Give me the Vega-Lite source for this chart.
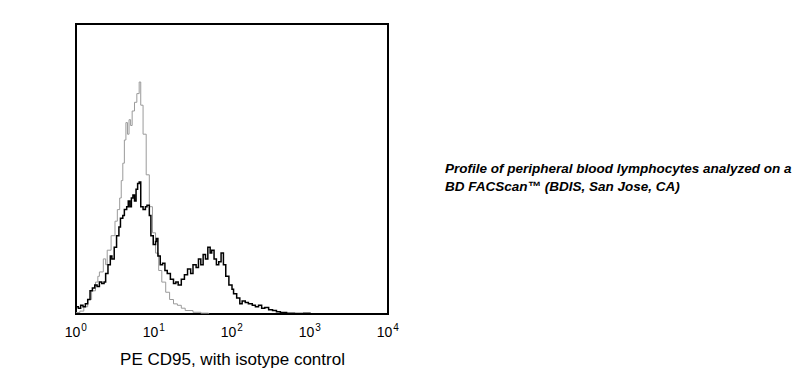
{
  "$schema": "https://vega.github.io/schema/vega-lite/v6.json",
  "width": 312,
  "height": 290,
  "autosize": {"type": "none"},
  "padding": {"left": 76, "top": 24, "right": 416, "bottom": 60},
  "background": "white",
  "title": {
    "text": ["Profile of peripheral blood lymphocytes analyzed on a", "BD FACScan™ (BDIS, San Jose, CA)"],
    "orient": "top",
    "anchor": "start",
    "frame": "group",
    "dx": 369,
    "dy": 169,
    "offset": 0,
    "baseline": "top",
    "lineHeight": 18,
    "font": "Liberation Sans",
    "fontSize": 13.5,
    "fontStyle": "italic",
    "fontWeight": "bold",
    "color": "#000000"
  },
  "config": {
    "view": {"stroke": "#000000", "strokeWidth": 2},
    "axis": {"grid": false, "domain": false, "ticks": false}
  },
  "data": {"values": [
    {"series": "Isotype control", "fluorescence": 1.0, "count": 0.5},
    {"series": "Isotype control", "fluorescence": 1.122, "count": 1},
    {"series": "Isotype control", "fluorescence": 1.259, "count": 2.5},
    {"series": "Isotype control", "fluorescence": 1.413, "count": 5},
    {"series": "Isotype control", "fluorescence": 1.585, "count": 8},
    {"series": "Isotype control", "fluorescence": 1.778, "count": 11},
    {"series": "Isotype control", "fluorescence": 1.905, "count": 13},
    {"series": "Isotype control", "fluorescence": 1.995, "count": 14.5},
    {"series": "Isotype control", "fluorescence": 2.239, "count": 19},
    {"series": "Isotype control", "fluorescence": 2.399, "count": 17},
    {"series": "Isotype control", "fluorescence": 2.512, "count": 22},
    {"series": "Isotype control", "fluorescence": 2.818, "count": 27},
    {"series": "Isotype control", "fluorescence": 3.162, "count": 32},
    {"series": "Isotype control", "fluorescence": 3.388, "count": 36},
    {"series": "Isotype control", "fluorescence": 3.631, "count": 40},
    {"series": "Isotype control", "fluorescence": 3.802, "count": 46},
    {"series": "Isotype control", "fluorescence": 3.981, "count": 52},
    {"series": "Isotype control", "fluorescence": 4.169, "count": 60},
    {"series": "Isotype control", "fluorescence": 4.365, "count": 66},
    {"series": "Isotype control", "fluorescence": 4.571, "count": 62},
    {"series": "Isotype control", "fluorescence": 4.786, "count": 67},
    {"series": "Isotype control", "fluorescence": 5.012, "count": 65},
    {"series": "Isotype control", "fluorescence": 5.248, "count": 70},
    {"series": "Isotype control", "fluorescence": 5.623, "count": 73},
    {"series": "Isotype control", "fluorescence": 6.026, "count": 76},
    {"series": "Isotype control", "fluorescence": 6.457, "count": 80},
    {"series": "Isotype control", "fluorescence": 6.761, "count": 72},
    {"series": "Isotype control", "fluorescence": 7.244, "count": 62},
    {"series": "Isotype control", "fluorescence": 7.943, "count": 48},
    {"series": "Isotype control", "fluorescence": 8.71, "count": 37},
    {"series": "Isotype control", "fluorescence": 9.55, "count": 28},
    {"series": "Isotype control", "fluorescence": 10.47, "count": 21},
    {"series": "Isotype control", "fluorescence": 11.48, "count": 15},
    {"series": "Isotype control", "fluorescence": 12.59, "count": 11},
    {"series": "Isotype control", "fluorescence": 14.13, "count": 7.5},
    {"series": "Isotype control", "fluorescence": 15.85, "count": 5},
    {"series": "Isotype control", "fluorescence": 17.78, "count": 3.5},
    {"series": "Isotype control", "fluorescence": 19.95, "count": 3},
    {"series": "Isotype control", "fluorescence": 22.39, "count": 2},
    {"series": "Isotype control", "fluorescence": 25.12, "count": 1.2},
    {"series": "Isotype control", "fluorescence": 31.62, "count": 0.6},
    {"series": "Isotype control", "fluorescence": 39.81, "count": 0.3},
    {"series": "Isotype control", "fluorescence": 50.12, "count": 0.1},
    {"series": "PE CD95", "fluorescence": 1.0, "count": 2.5},
    {"series": "PE CD95", "fluorescence": 1.072, "count": 2},
    {"series": "PE CD95", "fluorescence": 1.148, "count": 3},
    {"series": "PE CD95", "fluorescence": 1.23, "count": 2.5},
    {"series": "PE CD95", "fluorescence": 1.318, "count": 3.5},
    {"series": "PE CD95", "fluorescence": 1.413, "count": 5},
    {"series": "PE CD95", "fluorescence": 1.514, "count": 8},
    {"series": "PE CD95", "fluorescence": 1.622, "count": 9},
    {"series": "PE CD95", "fluorescence": 1.738, "count": 10},
    {"series": "PE CD95", "fluorescence": 1.862, "count": 9.5},
    {"series": "PE CD95", "fluorescence": 1.995, "count": 11},
    {"series": "PE CD95", "fluorescence": 2.138, "count": 10.5},
    {"series": "PE CD95", "fluorescence": 2.291, "count": 11},
    {"series": "PE CD95", "fluorescence": 2.399, "count": 14},
    {"series": "PE CD95", "fluorescence": 2.57, "count": 17},
    {"series": "PE CD95", "fluorescence": 2.754, "count": 20},
    {"series": "PE CD95", "fluorescence": 2.884, "count": 19},
    {"series": "PE CD95", "fluorescence": 3.09, "count": 23},
    {"series": "PE CD95", "fluorescence": 3.311, "count": 27},
    {"series": "PE CD95", "fluorescence": 3.548, "count": 30},
    {"series": "PE CD95", "fluorescence": 3.715, "count": 33},
    {"series": "PE CD95", "fluorescence": 3.981, "count": 34},
    {"series": "PE CD95", "fluorescence": 4.169, "count": 36},
    {"series": "PE CD95", "fluorescence": 4.467, "count": 37},
    {"series": "PE CD95", "fluorescence": 4.677, "count": 39},
    {"series": "PE CD95", "fluorescence": 4.898, "count": 37},
    {"series": "PE CD95", "fluorescence": 5.129, "count": 40},
    {"series": "PE CD95", "fluorescence": 5.37, "count": 41},
    {"series": "PE CD95", "fluorescence": 5.623, "count": 39},
    {"series": "PE CD95", "fluorescence": 5.888, "count": 43},
    {"series": "PE CD95", "fluorescence": 6.166, "count": 45},
    {"series": "PE CD95", "fluorescence": 6.457, "count": 45.5},
    {"series": "PE CD95", "fluorescence": 6.761, "count": 37},
    {"series": "PE CD95", "fluorescence": 7.244, "count": 36},
    {"series": "PE CD95", "fluorescence": 7.762, "count": 37},
    {"series": "PE CD95", "fluorescence": 8.128, "count": 37.5},
    {"series": "PE CD95", "fluorescence": 8.71, "count": 34},
    {"series": "PE CD95", "fluorescence": 9.12, "count": 27},
    {"series": "PE CD95", "fluorescence": 9.772, "count": 24},
    {"series": "PE CD95", "fluorescence": 10.47, "count": 25},
    {"series": "PE CD95", "fluorescence": 10.72, "count": 26},
    {"series": "PE CD95", "fluorescence": 11.22, "count": 20},
    {"series": "PE CD95", "fluorescence": 12.02, "count": 17},
    {"series": "PE CD95", "fluorescence": 12.88, "count": 17.5},
    {"series": "PE CD95", "fluorescence": 13.8, "count": 15},
    {"series": "PE CD95", "fluorescence": 14.79, "count": 14},
    {"series": "PE CD95", "fluorescence": 16.22, "count": 12},
    {"series": "PE CD95", "fluorescence": 17.78, "count": 10.5},
    {"series": "PE CD95", "fluorescence": 19.05, "count": 11},
    {"series": "PE CD95", "fluorescence": 20.42, "count": 10},
    {"series": "PE CD95", "fluorescence": 22.39, "count": 12},
    {"series": "PE CD95", "fluorescence": 24.55, "count": 13.5},
    {"series": "PE CD95", "fluorescence": 26.92, "count": 15.5},
    {"series": "PE CD95", "fluorescence": 29.51, "count": 14},
    {"series": "PE CD95", "fluorescence": 31.62, "count": 17},
    {"series": "PE CD95", "fluorescence": 34.67, "count": 16},
    {"series": "PE CD95", "fluorescence": 37.15, "count": 19},
    {"series": "PE CD95", "fluorescence": 39.81, "count": 17},
    {"series": "PE CD95", "fluorescence": 42.66, "count": 20.5},
    {"series": "PE CD95", "fluorescence": 45.71, "count": 19},
    {"series": "PE CD95", "fluorescence": 48.98, "count": 23},
    {"series": "PE CD95", "fluorescence": 52.48, "count": 21},
    {"series": "PE CD95", "fluorescence": 54.95, "count": 22},
    {"series": "PE CD95", "fluorescence": 58.88, "count": 19},
    {"series": "PE CD95", "fluorescence": 63.1, "count": 17},
    {"series": "PE CD95", "fluorescence": 67.61, "count": 18},
    {"series": "PE CD95", "fluorescence": 72.44, "count": 21},
    {"series": "PE CD95", "fluorescence": 77.62, "count": 17},
    {"series": "PE CD95", "fluorescence": 83.18, "count": 13},
    {"series": "PE CD95", "fluorescence": 91.2, "count": 10},
    {"series": "PE CD95", "fluorescence": 100, "count": 8.5},
    {"series": "PE CD95", "fluorescence": 104.7, "count": 7},
    {"series": "PE CD95", "fluorescence": 114.8, "count": 5.5},
    {"series": "PE CD95", "fluorescence": 125.9, "count": 3.5},
    {"series": "PE CD95", "fluorescence": 134.9, "count": 4.5},
    {"series": "PE CD95", "fluorescence": 147.9, "count": 4},
    {"series": "PE CD95", "fluorescence": 162.2, "count": 3.5},
    {"series": "PE CD95", "fluorescence": 182.0, "count": 3},
    {"series": "PE CD95", "fluorescence": 199.5, "count": 2.5},
    {"series": "PE CD95", "fluorescence": 218.8, "count": 3},
    {"series": "PE CD95", "fluorescence": 239.9, "count": 2},
    {"series": "PE CD95", "fluorescence": 263.0, "count": 2.2},
    {"series": "PE CD95", "fluorescence": 295.1, "count": 1.5},
    {"series": "PE CD95", "fluorescence": 331.1, "count": 1.2},
    {"series": "PE CD95", "fluorescence": 371.5, "count": 0.8},
    {"series": "PE CD95", "fluorescence": 416.9, "count": 0.5},
    {"series": "PE CD95", "fluorescence": 501.2, "count": 0.3},
    {"series": "PE CD95", "fluorescence": 631.0, "count": 0.2},
    {"series": "PE CD95", "fluorescence": 831.8, "count": 0.3},
    {"series": "PE CD95", "fluorescence": 1000, "count": 0.1}
  ]},
  "layer": [
    {
      "transform": [{"filter": "datum.series === 'Isotype control'"}],
      "mark": {"type": "line", "interpolate": "step-after", "color": "#9a9a9a", "strokeWidth": 1},
      "encoding": {
        "x": {
          "field": "fluorescence",
          "type": "quantitative",
          "scale": {"type": "log", "domain": [1, 10000], "nice": false},
          "axis": {
            "orient": "bottom",
            "values": [1, 10, 100, 1000, 10000],
            "labelExpr": "'10'",
            "labelFont": "Liberation Sans",
            "labelFontSize": 14,
            "labelColor": "#000000",
            "labelPadding": 11,
            "labelOffset": -4,
            "labelFlush": false,
            "labelOverlap": false,
            "title": "PE CD95, with isotype control",
            "titleFont": "Liberation Sans",
            "titleFontSize": 17,
            "titleFontWeight": "normal",
            "titleColor": "#000000",
            "titlePadding": 12
          }
        },
        "y": {
          "field": "count",
          "type": "quantitative",
          "scale": {"domain": [0, 100], "nice": false},
          "axis": {
            "labels": false,
            "title": "Relative Cell Number",
            "titleFont": "Liberation Sans",
            "titleFontSize": 17,
            "titleFontWeight": "normal",
            "titleColor": "#000000",
            "titlePadding": 39
          }
        }
      }
    },
    {
      "transform": [{"filter": "datum.series === 'PE CD95'"}],
      "mark": {"type": "line", "interpolate": "step-after", "color": "#000000", "strokeWidth": 1.5},
      "encoding": {
        "x": {
          "field": "fluorescence",
          "type": "quantitative",
          "scale": {"type": "log", "domain": [1, 10000], "nice": false},
          "axis": {
            "orient": "bottom",
            "values": [1, 10, 100, 1000, 10000],
            "labelExpr": "'' + round(log(datum.value) / LN10)",
            "labelFont": "Liberation Sans",
            "labelFontSize": 10,
            "labelColor": "#000000",
            "labelPadding": 8.5,
            "labelOffset": 7.5,
            "labelFlush": false,
            "labelOverlap": false,
            "title": null
          }
        },
        "y": {
          "field": "count",
          "type": "quantitative",
          "scale": {"domain": [0, 100], "nice": false},
          "axis": null
        }
      }
    }
  ],
  "resolve": {"axis": {"x": "independent"}}
}
